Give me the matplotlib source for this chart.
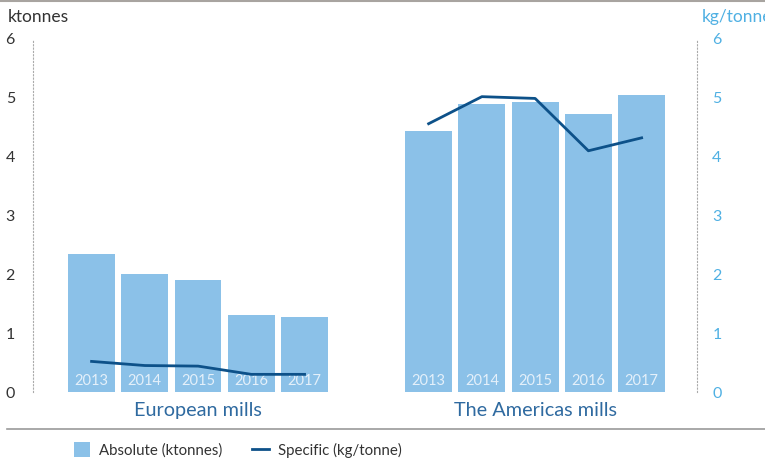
import matplotlib
matplotlib.use("Agg")
import matplotlib.pyplot as plt
from matplotlib.lines import Line2D
from matplotlib.patches import Patch
import numpy as np

plt.rcParams['font.family'] = ['Lato', 'DejaVu Sans']

years = ["2013", "2014", "2015", "2016", "2017"]
groups = ["European mills", "The Americas mills"]
absolute_eu = [2.35, 2.01, 1.91, 1.31, 1.28]
absolute_am = [4.44, 4.90, 4.93, 4.73, 5.05]
specific_eu = [0.52, 0.45, 0.44, 0.30, 0.30]
specific_am = [4.56, 5.02, 4.99, 4.10, 4.32]
yticks = [0, 1, 2, 3, 4, 5, 6]

BAR = "#8bc1e8"
LINE = "#0d5189"
GROUPC = "#2f6aa0"
RIGHTC = "#4fb0e3"
TXT = "#333333"

W, H = 765, 463
fig = plt.figure(figsize=(W / 100, H / 100), dpi=100)
ax_l, ax_r = 33, 697
y0, y6 = 392, 39
ax = fig.add_axes([ax_l / W, 1 - y0 / H, (ax_r - ax_l) / W, (y0 - y6) / H])

n = len(years)
gap = 6.33
x_eu = np.arange(n)
x_am = np.arange(n) + gap
width = 0.88

ax.bar(x_eu, absolute_eu, width=width, color=BAR, zorder=2)
ax.bar(x_am, absolute_am, width=width, color=BAR, zorder=2)

ax2 = ax.twinx()
ax2.plot(x_eu, specific_eu, color=LINE, lw=2, zorder=3)
ax2.plot(x_am, specific_am, color=LINE, lw=2, zorder=3)

for a in (ax, ax2):
    a.set_ylim(0, 6)
    a.set_xlim(-1.10, 11.37)
    a.set_yticks(yticks)
    for s in a.spines.values():
        s.set_visible(False)
    a.tick_params(length=0)
ax.set_xticks([])
ax.set_yticklabels([str(t) for t in yticks], fontsize=11.5, color=TXT)
ax.tick_params(axis='y', pad=13)
ax2.set_yticklabels([str(t) for t in yticks], fontsize=11.5, color=RIGHTC)
ax2.tick_params(axis='y', pad=11)

ax.spines['left'].set_visible(True)
ax.spines['left'].set_linestyle((0, (1, 2)))
ax.spines['left'].set_color("#aaaaaa")
ax.spines['left'].set_linewidth(0.8)
ax2.spines['right'].set_visible(True)
ax2.spines['right'].set_linestyle((0, (1, 2)))
ax2.spines['right'].set_color("#aaaaaa")
ax2.spines['right'].set_linewidth(0.8)

for xs in (x_eu, x_am):
    for xi, yr in zip(xs, years):
        ax.text(xi, 0.18, yr, ha='center', va='center', fontsize=10.5,
                color="#e4f0fa", zorder=4)

ax.text(np.mean(x_eu), -0.32, groups[0], ha='center', va='center',
        fontsize=14.3, color=GROUPC)
ax.text(np.mean(x_am), -0.32, groups[1], ha='center', va='center',
        fontsize=14.3, color=GROUPC)

fig.text(8 / W, 1 - 17 / H, "ktonnes", fontsize=12.5, color=TXT, va='center', ha='left')
fig.text(702 / W, 1 - 17 / H, "kg/tonne", fontsize=12.5, color=RIGHTC, va='center', ha='left')

fig.add_artist(Line2D([0, 1], [1 - 1 / H, 1 - 1 / H], color="#a8a4a0", lw=1.5))
fig.add_artist(Line2D([7 / W, 1], [1 - 429 / H, 1 - 429 / H], color="#9a9a9a", lw=1.2))

handles = [Patch(facecolor=BAR, edgecolor='none'),
           Line2D([0], [0], color=LINE, lw=2)]
fig.legend(handles, ["Absolute (ktonnes)", "Specific (kg/tonne)"],
           loc='center left', bbox_to_anchor=(60 / W, 1 - 450 / H), ncol=2,
           frameon=False, fontsize=10.8, labelcolor=TXT, handlelength=1.1,
           handleheight=1.1, handletextpad=0.6, columnspacing=2.0)

fig.savefig("out.png", dpi=100)
